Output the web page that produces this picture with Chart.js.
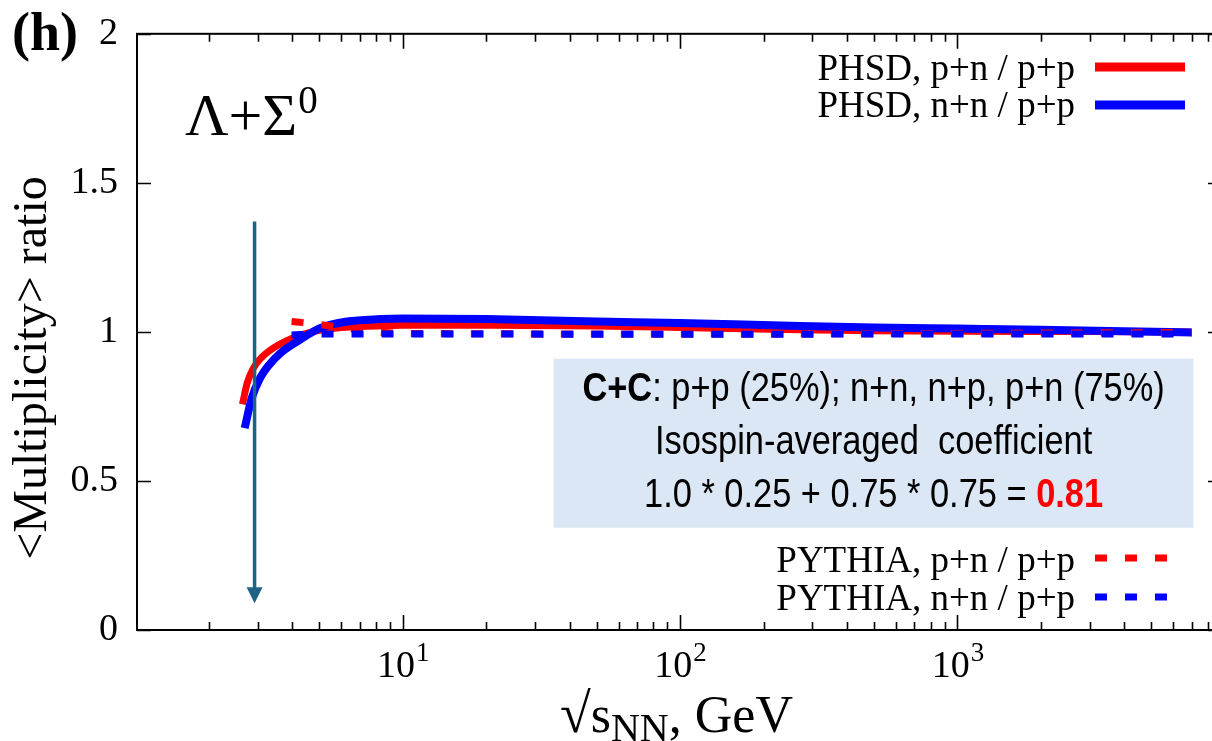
<!DOCTYPE html>
<html>
<head>
<meta charset="utf-8">
<script src="https://cdn.jsdelivr.net/npm/chart.js@4.4.1/dist/chart.umd.min.js"></script>
<style>
  html, body { margin: 0; background: #fff; overflow: hidden; }
  canvas { display: block; }
</style>
</head>
<body>
<canvas id="graph" width="1222" height="741"></canvas>
<script>
// values (sqrt(s_NN) in GeV, ratio)
const phsdPnEnergy = [2.64, 2.75, 2.9, 3.1, 3.4, 3.8, 4.3, 5.0, 6.0, 8.0, 10, 20, 50, 100, 270, 500, 1000, 3000, 7000];
const phsdPnRatio  = [0.757, 0.83, 0.88, 0.915, 0.945, 0.97, 0.99, 1.005, 1.015, 1.02, 1.022, 1.022, 1.02, 1.015, 1.007, 1.004, 1.002, 1.001, 1.0];

const phsdNnEnergy = [2.69, 2.85, 3.05, 3.3, 3.6, 4.25, 5.0, 6.3, 8.3, 10, 20, 50, 100, 270, 500, 1000, 2000, 4000, 7000];
const phsdNnRatio  = [0.677, 0.777, 0.843, 0.89, 0.927, 0.973, 1.012, 1.035, 1.043, 1.045, 1.043, 1.035, 1.03, 1.02, 1.015, 1.011, 1.007, 1.002, 0.998];

const pythiaPnEnergy = [3.97, 4.5, 5.0, 5.5, 6.5, 8, 10, 100, 1000, 7000];
const pythiaPnRatio  = [1.035, 1.03, 1.025, 1.02, 1.01, 1.0, 0.995, 0.993, 0.995, 0.998];

const pythiaNnEnergy = [3.97, 5.0, 10, 100, 1000, 7000];
const pythiaNnRatio  = [0.99, 0.993, 0.993, 0.992, 0.993, 0.993];

const seriesLabels = ['PHSD, p+n / p+p', 'PHSD, n+n / p+p', 'PYTHIA, p+n / p+p', 'PYTHIA, n+n / p+p'];

const xTickValues = [10, 100, 1000];
const xTickExponents = ['1', '2', '3'];
const yTickValues = [0, 0.5, 1, 1.5, 2];

// arrow at the lowest energy
const arrowEnergy = 2.92;
const arrowFrom = 1.37;
const arrowTo = 0.09;

// shaded note box (in data units)
const boxEnergy = [35, 7100];
const boxRatio = [0.343, 0.91];

const xMin = 1.1, xMax = 9000;
const serif = '"Liberation Serif", "Times New Roman", serif';
const sans = '"Liberation Sans", Arial, sans-serif';
const narrowScale = 0.86;

function toPoints(xs, ys) {
  return xs.map((v, i) => ({ x: v, y: ys[i] }));
}

// draws condensed text (Arial Narrow look) starting at x
function narrowText(ctx, txt, x, y) {
  ctx.save();
  ctx.translate(x, y);
  ctx.scale(narrowScale, 1);
  ctx.fillText(txt, 0, 0);
  ctx.restore();
  return ctx.measureText(txt).width * narrowScale;
}

const decorations = {
  id: 'decorations',
  afterDatasetsDraw(chart) {
    const ctx = chart.ctx;
    const x = chart.scales.x, y = chart.scales.y;
    ctx.save();

    // note box
    let bx1 = x.getPixelForValue(boxEnergy[0]), bx2 = x.getPixelForValue(boxEnergy[1]);
    let by1 = y.getPixelForValue(boxRatio[1]), by2 = y.getPixelForValue(boxRatio[0]);
    ctx.fillStyle = '#dbe7f4';
    ctx.fillRect(bx1, by1, bx2 - bx1, by2 - by1);
    let cx = (bx1 + bx2) / 2;
    ctx.textBaseline = 'middle';
    ctx.textAlign = 'left';
    ctx.fillStyle = '#000';
    const fb = 'bold 40px ' + sans, fr = '40px ' + sans;

    // line 1
    let rest = ': p+p (25%); n+n, n+p, p+n (75%)';
    ctx.font = fb;
    let w1 = ctx.measureText('C+C').width * narrowScale;
    ctx.font = fr;
    let w2 = ctx.measureText(rest).width * narrowScale;
    let sx = cx - (w1 + w2) / 2;
    ctx.font = fb;
    narrowText(ctx, 'C+C', sx, by1 + 31);
    ctx.font = fr;
    narrowText(ctx, rest, sx + w1, by1 + 31);

    // line 2
    let l2 = 'Isospin-averaged  coefficient';
    let w5 = ctx.measureText(l2).width * narrowScale;
    narrowText(ctx, l2, cx - w5 / 2, by1 + 84);

    // line 3
    let eq = '1.0 * 0.25 + 0.75 * 0.75 = ';
    let w3 = ctx.measureText(eq).width * narrowScale;
    ctx.font = fb;
    let w4 = ctx.measureText('0.81').width * narrowScale;
    sx = cx - (w3 + w4) / 2;
    ctx.font = fr;
    narrowText(ctx, eq, sx, by1 + 137);
    ctx.font = fb;
    ctx.fillStyle = '#ff0000';
    narrowText(ctx, '0.81', sx + w3, by1 + 137);

    // arrow
    let ax = x.getPixelForValue(arrowEnergy);
    let ay1 = y.getPixelForValue(arrowFrom), ay2 = y.getPixelForValue(arrowTo);
    ctx.strokeStyle = '#1f6384';
    ctx.fillStyle = '#1f6384';
    ctx.lineWidth = 3.5;
    ctx.beginPath();
    ctx.moveTo(ax, ay1);
    ctx.lineTo(ax, ay2 - 14);
    ctx.stroke();
    ctx.beginPath();
    ctx.moveTo(ax - 8, ay2 - 16);
    ctx.lineTo(ax + 8, ay2 - 16);
    ctx.lineTo(ax, ay2);
    ctx.closePath();
    ctx.fill();

    ctx.restore();
  },
  afterDraw(chart) {
    const ctx = chart.ctx;
    const a = chart.chartArea;
    const x = chart.scales.x, y = chart.scales.y;
    const ds = chart.data.datasets;
    ctx.save();

    // frame
    ctx.strokeStyle = '#000';
    ctx.lineWidth = 2;
    ctx.strokeRect(a.left, a.top, a.right - a.left, a.bottom - a.top);

    // inward ticks, log x (major + minor), mirrored on top
    ctx.lineWidth = 1.6;
    ctx.beginPath();
    for (let d = 1; d <= 1000; d *= 10) {
      for (let m = 1; m <= 9; m++) {
        let v = m * d;
        if (v < xMin || v > xMax) continue;
        let px = Math.round(x.getPixelForValue(v)) + 0.5;
        let len = m === 1 ? 15 : 8;
        ctx.moveTo(px, a.bottom); ctx.lineTo(px, a.bottom - len);
        ctx.moveTo(px, a.top); ctx.lineTo(px, a.top + len);
      }
    }
    yTickValues.forEach(v => {
      let py = Math.round(y.getPixelForValue(v)) + 0.5;
      ctx.moveTo(a.left, py); ctx.lineTo(a.left + 14, py);
      ctx.moveTo(a.right, py); ctx.lineTo(a.right - 14, py);
    });
    ctx.stroke();

    // x tick labels 10^n
    ctx.fillStyle = '#000';
    ctx.textBaseline = 'alphabetic';
    ctx.textAlign = 'left';
    xTickValues.forEach((v, i) => {
      let px = x.getPixelForValue(v);
      ctx.font = '38px ' + serif;
      let wb = ctx.measureText('10').width;
      ctx.font = '27px ' + serif;
      let we = ctx.measureText(xTickExponents[i]).width;
      let sx = px - (wb + we) / 2;
      ctx.font = '38px ' + serif;
      ctx.fillText('10', sx, a.bottom + 47);
      ctx.font = '27px ' + serif;
      ctx.fillText(xTickExponents[i], sx + wb + 1, a.bottom + 31);
    });

    // legend (top right: PHSD, bottom right: PYTHIA)
    const rows = [
      { i: 0, ty: 80, ly: 67, x1: 1095, x2: 1185 },
      { i: 1, ty: 117, ly: 105, x1: 1095, x2: 1185 },
      { i: 2, ty: 572, ly: 558, x1: 1095, x2: 1170 },
      { i: 3, ty: 610, ly: 597, x1: 1095, x2: 1170 }
    ];
    ctx.font = '37px ' + serif;
    ctx.textAlign = 'right';
    rows.forEach(r => {
      const d = ds[r.i];
      ctx.fillStyle = '#000';
      ctx.fillText(d.label, 1075, r.ty);
      ctx.strokeStyle = d.borderColor;
      ctx.lineWidth = d.borderDash ? 7 : 9;
      ctx.setLineDash(d.borderDash || []);
      ctx.lineCap = 'butt';
      ctx.beginPath();
      ctx.moveTo(r.x1, r.ly);
      ctx.lineTo(r.x2, r.ly);
      ctx.stroke();
      ctx.setLineDash([]);
    });

    // panel letter and particle label
    ctx.fillStyle = '#000';
    ctx.textAlign = 'left';
    ctx.font = 'bold 54px ' + serif;
    ctx.fillText('(h)', 12, 50);
    ctx.font = '60px ' + serif;
    ctx.fillText('\u039b+\u03a3', 185, 135);
    let wl = ctx.measureText('\u039b+\u03a3').width;
    ctx.font = '39px ' + serif;
    ctx.fillText('0', 185 + wl + 1, 113);

    // x axis title: sqrt(s_NN), GeV
    ctx.font = '56px ' + serif;
    ctx.fillText('\u221a', 560, 732);
    let wr = ctx.measureText('\u221a').width;
    ctx.font = '52px ' + serif;
    ctx.fillText('s', 560 + wr, 732);
    let wt = wr + ctx.measureText('s').width;
    ctx.font = '40px ' + serif;
    ctx.fillText('NN', 560 + wt, 741);
    let wn = ctx.measureText('NN').width;
    ctx.font = '52px ' + serif;
    ctx.fillText(', GeV', 560 + wt + wn, 732);

    // y axis title
    ctx.translate(33, 368);
    ctx.rotate(-Math.PI / 2);
    ctx.textAlign = 'center';
    ctx.textBaseline = 'middle';
    ctx.font = '48px ' + serif;
    ctx.fillText('<Multiplicity> ratio', 0, 0);

    ctx.restore();
  }
};

const ctx = document.getElementById('graph').getContext('2d');
const myChart = new Chart(ctx, {
  type: 'line',
  data: {
    datasets: [
      {
        label: seriesLabels[0],
        data: toPoints(phsdPnEnergy, phsdPnRatio),
        borderColor: '#ff0000',
        borderWidth: 7,
        order: 4
      },
      {
        label: seriesLabels[1],
        data: toPoints(phsdNnEnergy, phsdNnRatio),
        borderColor: '#0000ff',
        borderWidth: 8,
        order: 3
      },
      {
        label: seriesLabels[2],
        data: toPoints(pythiaPnEnergy, pythiaPnRatio),
        borderColor: '#ff0000',
        borderWidth: 7,
        borderDash: [12, 18],
        order: 2
      },
      {
        label: seriesLabels[3],
        data: toPoints(pythiaNnEnergy, pythiaNnRatio),
        borderColor: '#0000ff',
        borderWidth: 7,
        borderDash: [12, 18],
        order: 1
      }
    ]
  },
  options: {
    responsive: false,
    animation: false,
    devicePixelRatio: 1,
    layout: { padding: { top: 22, right: 0, left: 0, bottom: 0 } },
    elements: {
      point: { radius: 0 },
      line: { cubicInterpolationMode: 'monotone', fill: false, borderCapStyle: 'butt' }
    },
    plugins: {
      legend: { display: false },
      tooltip: { enabled: false }
    },
    scales: {
      x: {
        type: 'logarithmic',
        min: xMin,
        max: xMax,
        grid: { display: false },
        border: { display: false },
        afterBuildTicks: s => { s.ticks = xTickValues.map(v => ({ value: v })); },
        afterFit: s => { s.height = 111; },
        ticks: { display: false }
      },
      y: {
        min: 0,
        max: 2,
        grid: { display: false },
        border: { display: false },
        afterBuildTicks: s => { s.ticks = yTickValues.map(v => ({ value: v })); },
        afterFit: s => { s.width = 137; },
        ticks: {
          padding: 11,
          color: '#000',
          font: { family: serif, size: 38 },
          callback: v => String(v)
        }
      }
    }
  },
  plugins: [decorations]
});
</script>
</body>
</html>
